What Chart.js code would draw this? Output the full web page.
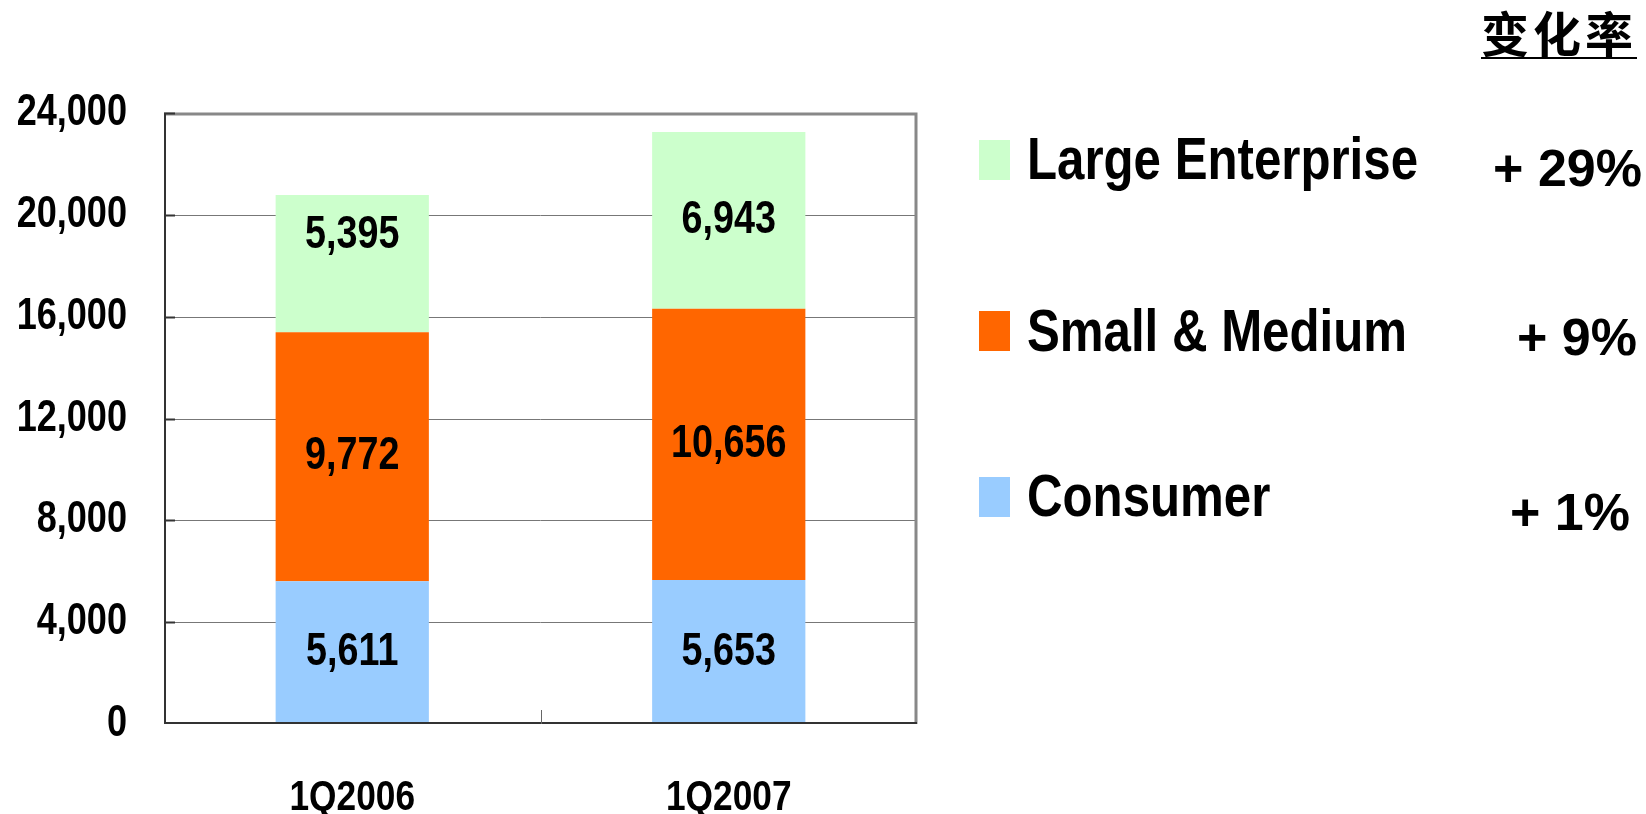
<!DOCTYPE html>
<html>
<head>
<meta charset="utf-8">
<script src="https://cdn.jsdelivr.net/npm/chart.js@4/dist/chart.umd.min.js"></script>
<style>
    body { margin: 0; background: #fff; }
    #wrap { position: relative; width: 1646px; height: 814px; overflow: hidden; }
    #chart { position: absolute; left: 0; top: 0; }
    .legendBox { position: absolute; left: 979px; width: 31px; height: 40px; }
    .legendText { position: absolute; left: 1027px; font-family: 'Liberation Sans', Arial, sans-serif; font-weight: bold; font-size: 60px; line-height: 60px; white-space: nowrap; color: #000; transform: scaleX(0.82); transform-origin: left center; }
    .pct { position: absolute; font-family: 'Liberation Sans', Arial, sans-serif; font-weight: bold; font-size: 52px; line-height: 52px; white-space: nowrap; color: #000; }
    #title { position: absolute; top: 7px; right: 9px; font-family: 'Noto Sans CJK SC', sans-serif; font-weight: bold; font-size: 48px; line-height: 48px; letter-spacing: 4px; padding-bottom: 2px; border-bottom: 2px solid #000; }
</style>
</head>
<body>
<div id="wrap">
    <canvas id="chart" width="1646" height="814"></canvas>
    <div id="title">变化率</div>
    <div id="legend"></div>
</div>
<script>
const quarters = ['1Q2006', '1Q2007'];
const segments = ['Consumer', 'Small & Medium', 'Large Enterprise'];
const consumer = [5611, 5653];
const smallMedium = [9772, 10656];
const largeEnterprise = [5395, 6943];
const changeRates = ['+ 1%', '+ 9%', '+ 29%'];
const yTicks = [0, 4000, 8000, 12000, 16000, 20000, 24000];

const colors = ['#99CCFF', '#FF6600', '#CCFFCC'];
const fontFamily = "'Liberation Sans', Arial, sans-serif";
const condense = 0.82; // fake Arial Narrow

// Legend on the right, top row is Large Enterprise
const legendRows = [
    { i: 2, box: 140, text: 129, pct: 142, right: 4 },
    { i: 1, box: 311, text: 301, pct: 311, right: 9 },
    { i: 0, box: 477, text: 466, pct: 486, right: 16 },
];
const legend = document.getElementById('legend');
legendRows.forEach((row) => {
    legend.insertAdjacentHTML('beforeend',
        `<div class="legendBox" style="top:${row.box}px;background:${colors[row.i]}"></div>` +
        `<div class="legendText" style="top:${row.text}px">${segments[row.i]}</div>` +
        `<div class="pct" style="top:${row.pct}px;right:${row.right}px">${changeRates[row.i]}</div>`);
});

// label nudges (dataset-bar), the 2006 large enterprise label sits high in the original
const labelNudge = { '2-0': -28 };

// squeeze axis tick labels horizontally around their anchor
function squeezeLabels(scale) {
    if (scale._squeezed) return;
    scale._squeezed = true;
    const orig = scale.drawLabels;
    scale.drawLabels = function (area) {
        const ctx = this.ctx;
        const t = ctx.translate;
        ctx.translate = function (a, b) {
            t.call(this, a, b);
            this.scale(condense, 1);
        };
        orig.call(this, area);
        ctx.translate = t;
    };
}

// Plot frame, inner ticks and value labels
const framePlugin = {
    id: 'frame',
    beforeDraw(chart) {
        squeezeLabels(chart.scales.x);
        squeezeLabels(chart.scales.y);
    },
    beforeDatasetsDraw(chart) {
        const ctx = chart.ctx;
        const a = chart.chartArea;
        const y = chart.scales.y;
        ctx.save();
        ctx.strokeStyle = '#777';
        ctx.lineWidth = 1;
        yTicks.slice(1, -1).forEach((v) => {
            const py = Math.round(y.getPixelForValue(v)) + 0.5;
            ctx.beginPath();
            ctx.moveTo(a.left, py);
            ctx.lineTo(a.right, py);
            ctx.stroke();
        });
        ctx.restore();
    },
    afterDatasetsDraw(chart) {
        const ctx = chart.ctx;
        const a = chart.chartArea;
        const x = chart.scales.x;
        const y = chart.scales.y;
        ctx.save();
        // top and right border (gray, thick)
        ctx.strokeStyle = '#888';
        ctx.lineWidth = 3;
        ctx.beginPath();
        ctx.moveTo(a.left, a.top + 1);
        ctx.lineTo(a.right - 1, a.top + 1);
        ctx.lineTo(a.right - 1, a.bottom);
        ctx.stroke();
        // left and bottom axis (dark)
        ctx.strokeStyle = '#333';
        ctx.lineWidth = 2;
        ctx.beginPath();
        ctx.moveTo(a.left + 1, a.top);
        ctx.lineTo(a.left + 1, a.bottom - 1);
        ctx.lineTo(a.right, a.bottom - 1);
        ctx.stroke();
        // small ticks on the y axis
        yTicks.slice(1).forEach((v) => {
            const py = Math.round(y.getPixelForValue(v)) + 0.5;
            ctx.beginPath();
            ctx.moveTo(a.left, py);
            ctx.lineTo(a.left + 11, py);
            ctx.stroke();
        });
        // tick between the categories
        const mid = Math.round((x.getPixelForValue(0) + x.getPixelForValue(1)) / 2) + 0.5;
        ctx.strokeStyle = '#666';
        ctx.lineWidth = 1;
        ctx.beginPath();
        ctx.moveTo(mid, a.bottom - 14);
        ctx.lineTo(mid, a.bottom);
        ctx.stroke();

        // value labels
        ctx.fillStyle = '#000';
        ctx.font = 'bold 46px ' + fontFamily;
        ctx.textAlign = 'center';
        ctx.textBaseline = 'middle';
        chart.data.datasets.forEach((ds, di) => {
            const meta = chart.getDatasetMeta(di);
            meta.data.forEach((bar, bi) => {
                const p = bar.getCenterPoint();
                const dy = labelNudge[di + '-' + bi] || 0;
                ctx.save();
                ctx.translate(p.x, p.y + dy);
                ctx.scale(condense, 1);
                ctx.fillText(ds.data[bi].toLocaleString('en-US'), 0, 0);
                ctx.restore();
            });
        });
        ctx.restore();
    }
};

new Chart(document.getElementById('chart'), {
    type: 'bar',
    data: {
        labels: quarters,
        datasets: [
            { label: segments[0], data: consumer, backgroundColor: colors[0] },
            { label: segments[1], data: smallMedium, backgroundColor: colors[1] },
            { label: segments[2], data: largeEnterprise, backgroundColor: colors[2] },
        ],
    },
    options: {
        responsive: false,
        animation: false,
        devicePixelRatio: 1,
        layout: { padding: { top: 113, right: 729, left: 0, bottom: 0 } },
        datasets: { bar: { categoryPercentage: 1, barPercentage: 0.407, borderWidth: 0 } },
        plugins: { legend: { display: false }, tooltip: { enabled: false } },
        scales: {
            x: {
                stacked: true,
                grid: { display: false, drawTicks: false },
                border: { display: false },
                ticks: { color: '#000', padding: 48, font: { family: fontFamily, size: 43, weight: 'bold' } },
                afterFit(scale) { scale.height = 90; },
            },
            y: {
                stacked: true,
                min: 0,
                max: 24000,
                grid: { display: false, drawTicks: false },
                border: { display: false },
                afterBuildTicks(scale) { scale.ticks = yTicks.map((v) => ({ value: v })); },
                ticks: {
                    color: '#000',
                    padding: 37,
                    font: { family: fontFamily, size: 44, weight: 'bold' },
                    callback: (v) => v.toLocaleString('en-US'),
                },
                afterFit(scale) { scale.width = 164; },
            },
        },
    },
    plugins: [framePlugin],
});
</script>
</body>
</html>
